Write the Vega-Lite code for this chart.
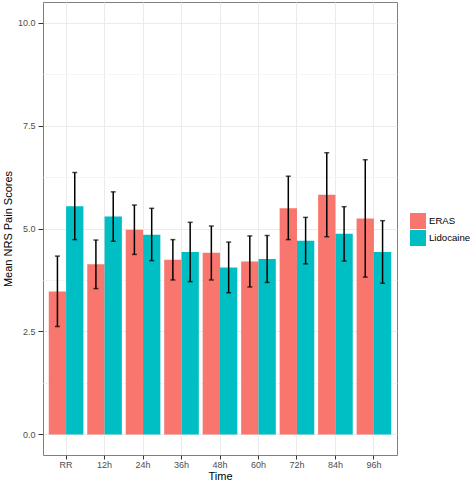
{
  "$schema": "https://vega.github.io/schema/vega-lite/v6.json",
  "autosize": {"type": "none"},
  "padding": {"left": 43, "top": 2, "right": 75, "bottom": 27},
  "width": 354,
  "height": 453,
  "background": "white",
  "config": {
    "font": "Liberation Sans",
    "view": {"stroke": "#7F7F7F", "strokeWidth": 1},
    "axis": {
      "domain": false,
      "tickColor": "#333333",
      "labelColor": "#4D4D4D",
      "labelFontSize": 9,
      "titleFontSize": 11,
      "titleFontWeight": "normal",
      "titleColor": "#000000",
      "gridColor": "#EBEBEB",
      "gridWidth": 1
    }
  },
  "data": {
    "values": [
      {"Time": "RR", "Group": "ERAS", "mean": 3.47, "lo": 2.62, "hi": 4.33},
      {"Time": "RR", "Group": "Lidocaine", "mean": 5.54, "lo": 4.73, "hi": 6.36},
      {"Time": "12h", "Group": "ERAS", "mean": 4.13, "lo": 3.54, "hi": 4.72},
      {"Time": "12h", "Group": "Lidocaine", "mean": 5.29, "lo": 4.69, "hi": 5.89},
      {"Time": "24h", "Group": "ERAS", "mean": 4.97, "lo": 4.37, "hi": 5.57},
      {"Time": "24h", "Group": "Lidocaine", "mean": 4.85, "lo": 4.22, "hi": 5.49},
      {"Time": "36h", "Group": "ERAS", "mean": 4.24, "lo": 3.75, "hi": 4.73},
      {"Time": "36h", "Group": "Lidocaine", "mean": 4.43, "lo": 3.71, "hi": 5.15},
      {"Time": "48h", "Group": "ERAS", "mean": 4.41, "lo": 3.75, "hi": 5.06},
      {"Time": "48h", "Group": "Lidocaine", "mean": 4.05, "lo": 3.44, "hi": 4.67},
      {"Time": "60h", "Group": "ERAS", "mean": 4.2, "lo": 3.58, "hi": 4.82},
      {"Time": "60h", "Group": "Lidocaine", "mean": 4.26, "lo": 3.69, "hi": 4.83},
      {"Time": "72h", "Group": "ERAS", "mean": 5.49, "lo": 4.73, "hi": 6.27},
      {"Time": "72h", "Group": "Lidocaine", "mean": 4.7, "lo": 4.14, "hi": 5.27},
      {"Time": "84h", "Group": "ERAS", "mean": 5.82, "lo": 4.8, "hi": 6.84},
      {"Time": "84h", "Group": "Lidocaine", "mean": 4.87, "lo": 4.21, "hi": 5.53},
      {"Time": "96h", "Group": "ERAS", "mean": 5.24, "lo": 3.82, "hi": 6.67},
      {"Time": "96h", "Group": "Lidocaine", "mean": 4.43, "lo": 3.67, "hi": 5.19}
    ]
  },
  "encoding": {
    "x": {
      "field": "Time",
      "type": "nominal",
      "sort": ["RR", "12h", "24h", "36h", "48h", "60h", "72h", "84h", "96h"],
      "scale": {"paddingInner": 0.1, "paddingOuter": 0.15},
      "axis": {
        "title": "Time",
        "labelAngle": 0,
        "tickSize": 4,
        "labelPadding": 1,
        "titlePadding": 1,
        "grid": true,
        "bandPosition": 0.5
      }
    },
    "xOffset": {
      "field": "Group",
      "type": "nominal",
      "scale": {"paddingInner": 0, "paddingOuter": 0}
    }
  },
  "layer": [
    {
      "mark": {"type": "bar"},
      "encoding": {
        "y": {
          "field": "mean",
          "type": "quantitative",
          "scale": {"domain": [-0.5, 10.5], "nice": false, "zero": false},
          "axis": {
            "title": "Mean NRS Pain Scores",
            "values": [0, 1.25, 2.5, 3.75, 5, 6.25, 7.5, 8.75, 10],
            "labelExpr": "datum.value % 2.5 === 0 ? format(datum.value, '.1f') : ''",
            "tickSize": 5,
            "labelPadding": 3,
            "titlePadding": 4,
            "tickOpacity": {"condition": {"test": "datum.value % 2.5 !== 0", "value": 0}, "value": 1},
            "gridColor": {"condition": {"test": "datum.value % 2.5 !== 0", "value": "#F5F5F5"}, "value": "#EBEBEB"},
            "grid": true
          }
        },
        "y2": {"datum": 0},
        "color": {
          "field": "Group",
          "type": "nominal",
          "scale": {"domain": ["ERAS", "Lidocaine"], "range": ["#F8766D", "#00BFC4"]},
          "legend": {
            "title": null,
            "orient": "none",
            "legendX": 367,
            "legendY": 211,
            "symbolType": "square",
            "symbolSize": 256,
            "symbolStrokeWidth": 0,
            "symbolOpacity": 1,
            "rowPadding": 1,
            "labelFontSize": 9.6,
            "labelColor": "#000000",
            "labelOffset": 3
          }
        }
      }
    },
    {
      "mark": {"type": "rule", "color": "#000000", "strokeWidth": 1.5},
      "encoding": {
        "y": {"field": "lo", "type": "quantitative"},
        "y2": {"field": "hi"}
      }
    },
    {
      "mark": {"type": "tick", "color": "#000000", "thickness": 1.5, "size": 5},
      "encoding": {
        "y": {"field": "lo", "type": "quantitative"}
      }
    },
    {
      "mark": {"type": "tick", "color": "#000000", "thickness": 1.5, "size": 5},
      "encoding": {
        "y": {"field": "hi", "type": "quantitative"}
      }
    }
  ]
}
